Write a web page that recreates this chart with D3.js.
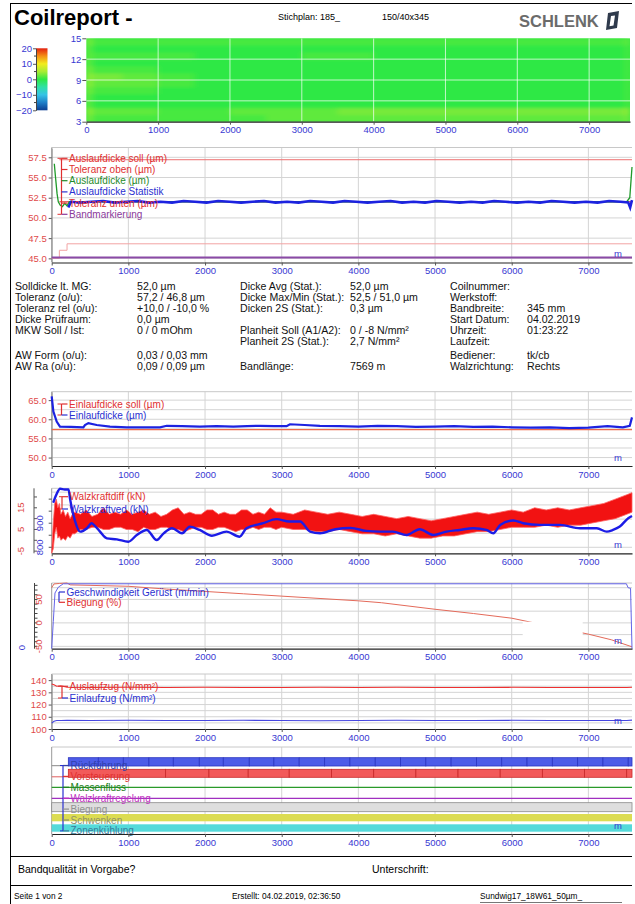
<!DOCTYPE html>
<html>
<head>
<meta charset="utf-8">
<script src="https://cdn.jsdelivr.net/npm/d3@7"></script>
<style>
body { margin: 0; background: #fff; }
svg { display: block; font-family: "Liberation Sans", Arial, sans-serif; }
</style>
</head>
<body>
<svg id="page" width="635" height="904"></svg>
<script>
// ---- data ----
const REPORT_LEN = 7569;
const distTicks = [0, 1000, 2000, 3000, 4000, 5000, 6000, 7000];

// Planheit map (zones 3..15, rows from bottom)
const zoneLo = [3, 4, 5, 6, 7, 8, 9, 10, 11, 12, 13, 14];
const heatCuts = [0, 80, 500, 1000, 1500, 2000, 2500, 3000, 3500, 4000, 4500, 5000, 5500, 6000, 6500, 7000, 7500, 7569];
const heatRows = [
  [3, 1, 1, 1, 1, 1, 2, 2, 2, 2, 2, 2, 2, 2, 2, 2, 3],
  [4, 2, 2, 1, 1, 2, 2, 2, 3, 3, 3, 3, 3, 3, 3, 3, 4],
  [2, 0, 0, 0, 0, 0, 0, 0, 0, 0, 0, 0, 0, 0, 0, 0, 1],
  [2, 0, 0, 0, 0, 0, 0, 0, 0, 0, 0, 0, 0, 0, 0, 0, 1],
  [3, 1, 1, 0, 0, 0, 0, 0, 0, 0, 0, 0, 0, 0, 0, 0, 1],
  [4, 2, 2, 1, 0, 0, 0, 0, 0, 0, 0, 0, 0, 0, 0, 0, 1],
  [4, 3, 2, 1, 0, 0, 0, 0, 0, 0, 0, 0, 0, 0, 0, 0, 1],
  [3, 1, 1, 0, 0, 0, 0, 0, 0, 0, 0, 0, 0, 0, 0, 0, 1],
  [2, 0, 0, 0, 0, 0, 0, 0, 0, 0, 0, 0, 0, 0, 0, 0, 1],
  [2, 1, 1, 1, 0, 0, 0, 1, 1, 0, 0, 0, 0, 0, 0, 0, 1],
  [2, 0, 0, 0, 0, 0, 0, 0, 0, 0, 0, 0, 0, 0, 0, 0, 1],
  [3, 1, 1, 1, 1, 1, 1, 1, 1, 1, 1, 1, 1, 1, 1, 1, 2]
];
const scaleStops = [-20, -15, -10, -5, 0, 5, 10, 15, 20];
const scaleColors = ["#0b3d91", "#1e7fc8", "#35c3e6", "#2fe0a6", "#2ee844", "#a8ec34", "#f2ec1e", "#f49014", "#e3200f"];
const colorbarTicks = [20, 10, 0, -10, -20];
const zoneTicks = [3, 6, 9, 12, 15];

// Auslaufdicke
const dickeStatM = [217, 250, 370, 520, 670, 820, 970, 1120, 1270, 1420, 1570, 1720, 1870, 2020, 2170, 2320, 2470, 2620, 2770, 2920, 3070, 3220, 3370, 3520, 3670, 3820, 3970, 4120, 4270, 4420, 4570, 4720, 4870, 5020, 5170, 5320, 5470, 5620, 5770, 5920, 6070, 6220, 6370, 6520, 6670, 6820, 6970, 7120, 7270, 7420, 7520, 7545, 7569];
const dickeStat = [51.3, 52.0, 51.9, 52.0, 52.1, 51.9, 52.0, 52.1, 51.9, 52.0, 51.9, 52.1, 52.0, 51.9, 52.1, 52.0, 51.9, 52.0, 52.1, 51.9, 52.0, 51.9, 52.1, 52.0, 51.9, 52.1, 52.0, 51.9, 52.0, 52.1, 51.9, 52.0, 51.9, 52.1, 52.0, 51.9, 52.0, 51.9, 52.1, 52.0, 51.9, 52.0, 51.9, 52.1, 52.0, 51.9, 52.0, 51.9, 52.1, 52.0, 51.9, 51.3, 52.2];
const dickeIstM = [34, 50, 70, 86, 110, 140, 170, 200, 230, 7500, 7540, 7569];
const dickeIst = [56.7, 55.0, 53.0, 52.0, 51.6, 51.4, 51.8, 51.5, 52.0, 52.0, 52.5, 56.3];
const dickeSoll = 52.0;
const tolOben = 57.2;
const tolUntenM = [0, 100, 100, 200, 200, REPORT_LEN];
const tolUnten = [45.0, 45.0, 46.0, 46.0, 46.8, 46.8];
const bandMark = 45.1;

// Einlaufdicke
const einlaufM = [0, 22, 65, 108, 250, 413, 434, 478, 587, 760, 978, 1200, 1413, 1500, 1700, 1934, 2150, 2369, 2550, 2716, 2900, 3064, 3107, 3300, 3498, 3750, 4000, 4250, 4500, 4750, 5000, 5250, 5500, 5750, 6000, 6250, 6500, 6750, 7000, 7250, 7450, 7540, 7569];
const einlauf = [66.0, 62.0, 59.4, 58.1, 58.0, 57.9, 58.5, 59.0, 58.5, 58.1, 57.9, 57.9, 57.9, 58.3, 58.2, 58.1, 58.2, 58.1, 58.2, 58.3, 58.2, 58.2, 58.7, 58.5, 58.3, 58.2, 58.1, 58.3, 58.2, 58.0, 58.1, 58.2, 58.0, 58.1, 57.9, 57.8, 57.9, 57.7, 57.8, 58.2, 57.9, 58.3, 60.5];
const einlaufSoll = 57.3;

// Walzkraft
const walzDiffM = [0, 20, 40, 60, 80, 100, 120, 150, 180, 210, 240, 270, 300, 375, 450, 525, 600, 675, 750, 825, 900, 975, 1050, 1125, 1200, 1275, 1350, 1425, 1500, 1575, 1650, 1725, 1800, 1875, 1950, 2025, 2100, 2175, 2250, 2325, 2400, 2475, 2550, 2625, 2700, 2775, 2850, 2925, 3000, 3150, 3300, 3450, 3600, 3750, 3900, 4050, 4200, 4350, 4500, 4650, 4800, 4950, 5100, 5250, 5400, 5550, 5700, 5850, 6000, 6150, 6300, 6450, 6600, 6750, 6900, 7050, 7200, 7350, 7500, 7569];
const walzDiffHi = [-5, 8, 17, 19, 15, 17, 12, 14, 11, 13, 10, 12, 13, 12, 14, 11, 12, 15, 12, 13, 12, 14, 12, 13, 14, 12, 13, 11, 12, 14, 15, 12, 13, 12, 12, 14, 14, 12, 13, 12, 12, 14, 14, 12, 13, 12, 15, 13, 13, 12, 14, 13, 12, 13, 12, 11, 12, 11, 10, 11, 10, 9, 10, 11, 12, 13, 12, 13, 14, 13, 15, 14, 15, 14, 15, 16, 17, 19, 21, 22];
const walzDiffLo = [-6, -4, 3, 6, 1, 2, 0, 1, 0, 2, 1, 3, 3, 5, 5, 6, 6, 5, 5, 6, 6, 5, 5, 4, 6, 5, 5, 6, 6, 5, 5, 4, 5, 6, 6, 5, 5, 6, 6, 5, 4, 5, 5, 6, 5, 6, 6, 5, 6, 5, 5, 4, 4, 5, 4, 3, 3, 2, 3, 2, 1, 1, 2, 2, 3, 4, 4, 5, 6, 6, 6, 7, 6, 7, 7, 8, 9, 10, 12, 13];
const walzKraftM = [20, 60, 110, 170, 220, 240, 300, 370, 460, 520, 560, 630, 720, 850, 1000, 1110, 1240, 1370, 1460, 1570, 1700, 1800, 1930, 2090, 2280, 2450, 2540, 2760, 2930, 3100, 3240, 3370, 3500, 3700, 3900, 4100, 4280, 4450, 4630, 4800, 4980, 5150, 5320, 5500, 5670, 5760, 5850, 6020, 6150, 6370, 6630, 6890, 7110, 7240, 7320, 7410, 7520, 7569];
const walzKraft = [985, 1018, 1043, 1040, 1040, 1000, 914, 865, 879, 900, 890, 865, 837, 833, 823, 851, 872, 830, 858, 879, 858, 886, 872, 848, 865, 844, 879, 900, 917, 907, 907, 865, 858, 875, 880, 868, 865, 865, 851, 875, 851, 865, 872, 879, 872, 858, 893, 911, 900, 893, 893, 879, 879, 865, 872, 886, 921, 930];

// Geschwindigkeit / Biegung
const speedM = [0, 21, 43, 86, 151, 200, 7496, 7518, 7550, 7569];
const speed = [0, 104, 212, 234, 247, 247, 247, 232, 230, 0];
const biegungM = [0, 30, 100, 200, 240, 500, 1000, 1500, 2000, 2500, 3000, 3500, 4000, 4300, 5000, 5500, 6000, 6500, 7000, 7300, 7569];
const biegung = [75, 83, 84, 85, 81, 80, 78, 72, 67, 62, 57, 52, 47, 43, 29, 20, 10, -7, -24, -36, -51];

// Zug
const zugM = [0, 30, 65, 120, 200, 500, 1000, 1500, 2000, 2500, 3000, 3500, 4000, 4500, 5000, 5500, 6000, 6500, 7000, 7500, 7569];
const auslaufzug = [136.8, 136.2, 135.0, 135.4, 134.2, 134.0, 134.2, 134.0, 134.1, 133.9, 134.0, 134.2, 134.0, 134.1, 133.9, 134.0, 134.1, 134.0, 133.9, 134.0, 134.2];
const einlaufzug = [104.8, 106.3, 106.9, 107.0, 107.1, 107.0, 107.2, 107.0, 106.9, 107.1, 107.0, 106.8, 107.0, 107.1, 106.9, 107.0, 107.1, 106.9, 107.0, 106.9, 107.3];

// Regelungen
const rueckCuts = [217, 608, 934, 1268, 1586, 1925, 2238, 2577, 2898, 3228, 3560, 3890, 4220, 4550, 4880, 5210, 5540, 5870, 6200, 6530, 6860, 7190, 7520, 7569];
const vorCuts = [217, 1486, 2051, 2563, 3098, 3650, 4200, 4750, 5300, 5850, 6400, 6950, 7500, 7569];

// info block
const infoLeft = [["Solldicke lt. MG:", "52,0 µm", 0], ["Toleranz (o/u):", "57,2 / 46,8 µm", 1], ["Toleranz rel (o/u):", "+10,0 / -10,0 %", 2], ["Dicke Prüfraum:", "0,0 µm", 3], ["MKW Soll / Ist:", "0 / 0 mOhm", 4], ["AW Form (o/u):", "0,03 / 0,03 mm", 6], ["AW Ra (o/u):", "0,09 / 0,09 µm", 7]];
const infoMid = [["Dicke Avg (Stat.):", "52,0 µm", 0], ["Dicke Max/Min (Stat.):", "52,5 / 51,0 µm", 1], ["Dicken 2S (Stat.):", "0,3 µm", 2], ["Planheit Soll (A1/A2):", "0 / -8 N/mm²", 4], ["Planheit 2S (Stat.):", "2,7 N/mm²", 5], ["Bandlänge:", "7569 m", 7]];
const infoRight = [["Coilnummer:", "", 0], ["Werkstoff:", "", 1], ["Bandbreite:", "345 mm", 2], ["Start Datum:", "04.02.2019", 3], ["Uhrzeit:", "01:23:22", 4], ["Laufzeit:", "", 5], ["Bediener:", "tk/cb", 6], ["Walzrichtung:", "Rechts", 7]];

// ---- drawing ----
const FONT = '"Liberation Sans", Arial, sans-serif';
const AX_BLUE = "#3838d2";
const AX_RED = "#e04a4a";
const GRID = "#d4d4d4";
const svg = d3.select("#page");

const x = d3.scaleLinear().domain([0, REPORT_LEN]).range([51.7, 632]);
const xHeat = d3.scaleLinear().domain([0, REPORT_LEN]).range([86.3, 630]);

function styleAxis(g, color, size) {
  g.attr("font-family", FONT);
  g.selectAll("text").attr("fill", color).attr("font-size", size);
  g.select(".domain").attr("stroke", "#555");
  g.selectAll(".tick line").attr("stroke", "#555");
}

function xAxis(scale, y0) {
  const g = svg.append("g").attr("transform", `translate(0,${y0})`)
    .call(d3.axisBottom(scale).tickValues(distTicks).tickSize(3).tickSizeOuter(0).tickPadding(2).tickFormat(d3.format("d")));
  styleAxis(g, AX_BLUE, 9.5);
  g.select(".domain").attr("stroke", "#222").attr("stroke-width", 1.2);
  return g;
}

function gridFrame(yTop, yBot, hLines) {
  const g = svg.append("g");
  g.selectAll(null).data(distTicks.slice(1)).join("line")
    .attr("x1", d => x(d)).attr("x2", d => x(d)).attr("y1", yTop).attr("y2", yBot)
    .attr("stroke", GRID);
  g.selectAll(null).data(hLines).join("line")
    .attr("x1", x.range()[0]).attr("x2", x.range()[1]).attr("y1", d => d).attr("y2", d => d)
    .attr("stroke", GRID);
  g.append("line").attr("x1", x.range()[0]).attr("x2", x.range()[1]).attr("y1", yTop).attr("y2", yTop).attr("stroke", "#c8c8c8");
  g.append("line").attr("x1", x.range()[0]).attr("x2", x.range()[0]).attr("y1", yTop).attr("y2", yBot).attr("stroke", "#999");
  return g;
}

function unitLabel(yBot) {
  svg.append("text").attr("x", 614).attr("y", yBot - 5).attr("fill", AX_BLUE)
    .attr("font-size", 9.5).text("m");
}

function legend(items, x0, y0, step, bracketColor, leftTick) {
  const g = svg.append("g");
  const ys = items.map((d, i) => y0 + i * step);
  g.append("line").attr("x1", x0).attr("x2", x0).attr("y1", ys[0]).attr("y2", ys[ys.length - 1])
    .attr("stroke", bracketColor).attr("stroke-width", 1.2);
  if (leftTick) {
    g.append("line").attr("x1", x0 - leftTick).attr("x2", x0).attr("y1", ys[0]).attr("y2", ys[0]).attr("stroke", bracketColor);
    g.append("line").attr("x1", x0 - leftTick).attr("x2", x0).attr("y1", ys[ys.length - 1]).attr("y2", ys[ys.length - 1]).attr("stroke", bracketColor);
  }
  items.forEach((d, i) => {
    g.append("line").attr("x1", x0).attr("x2", x0 + 6).attr("y1", ys[i]).attr("y2", ys[i])
      .attr("stroke", d.color).attr("stroke-width", 1.2);
    g.append("text").attr("x", x0 + 7.5).attr("y", ys[i] + 3.5).attr("fill", d.color)
      .attr("font-size", 10).text(d.label);
  });
}

function pairs(ms, vs) { return ms.map((m, i) => [m, vs[i]]); }

// page frame + header
svg.append("line").attr("x1", 10.5).attr("x2", 10.5).attr("y1", 3).attr("y2", 904).attr("stroke", "#000");
svg.append("line").attr("x1", 10).attr("x2", 632).attr("y1", 3.5).attr("y2", 3.5).attr("stroke", "#000");
svg.append("text").attr("x", 14).attr("y", 25).attr("font-size", 22).attr("font-weight", "bold").text("Coilreport -");
svg.append("text").attr("x", 278).attr("y", 20).attr("font-size", 9).text("Stichplan: 185_");
svg.append("text").attr("x", 382).attr("y", 20).attr("font-size", 9).text("150/40x345");
svg.append("text").attr("x", 519).attr("y", 27).attr("font-size", 16.5).attr("font-weight", "bold")
  .attr("fill", "#6b6b6b").text("SCHLENK");
svg.append("path").attr("d", "M608,13 L619,11 L617,28 L606,30 Z M611,16 L615,15.5 L613.5,25.5 L609.5,26.2 Z")
  .attr("fill", "#2f3a4c").attr("fill-rule", "evenodd");

// ---- Panel 1: Planheit map ----
const yHeat = d3.scaleLinear().domain([3, 15]).range([121.7, 38.3]);
const heatColor = d3.scaleLinear().domain(scaleStops).range(scaleColors).clamp(true);
const defs = svg.append("defs");
defs.append("clipPath").attr("id", "heatClip").append("rect")
  .attr("x", xHeat(0)).attr("y", yHeat(15)).attr("width", xHeat(REPORT_LEN) - xHeat(0)).attr("height", yHeat(3) - yHeat(15));
defs.append("filter").attr("id", "soft").attr("x", "-5%").attr("y", "-5%").attr("width", "110%").attr("height", "110%")
  .append("feGaussianBlur").attr("stdDeviation", "3 1.4");
const cells = [];
heatRows.forEach((row, r) => row.forEach((v, c) => cells.push({ r, c, v })));
const heatG = svg.append("g").attr("clip-path", "url(#heatClip)");
heatG.append("rect").attr("x", xHeat(0)).attr("y", yHeat(15)).attr("width", xHeat(REPORT_LEN) - xHeat(0))
  .attr("height", yHeat(3) - yHeat(15)).attr("fill", heatColor(0));
heatG.append("g").attr("filter", "url(#soft)").selectAll("rect").data(cells).join("rect")
  .attr("x", d => xHeat(heatCuts[d.c]) - 0.3)
  .attr("width", d => xHeat(heatCuts[d.c + 1]) - xHeat(heatCuts[d.c]) + 0.6)
  .attr("y", d => yHeat(zoneLo[d.r] + 1) - 0.3)
  .attr("height", d => yHeat(zoneLo[d.r]) - yHeat(zoneLo[d.r] + 1) + 0.6)
  .attr("fill", d => heatColor(d.v));
heatG.selectAll(null).data(distTicks.slice(1)).join("line")
  .attr("x1", d => xHeat(d)).attr("x2", d => xHeat(d)).attr("y1", yHeat(15)).attr("y2", yHeat(3))
  .attr("stroke", "#ffffff").attr("stroke-opacity", 0.7);
heatG.selectAll(null).data([6, 9, 12]).join("line")
  .attr("x1", xHeat(0)).attr("x2", xHeat(REPORT_LEN)).attr("y1", d => yHeat(d)).attr("y2", d => yHeat(d))
  .attr("stroke", "#ffffff").attr("stroke-opacity", 0.7);
const hy = svg.append("g").attr("transform", `translate(${xHeat(0)},0)`)
  .call(d3.axisLeft(yHeat).tickValues(zoneTicks).tickSize(4).tickSizeOuter(0).tickPadding(1));
styleAxis(hy, AX_BLUE, 9.5);
hy.select(".domain").remove();
xAxis(xHeat, 121.7);

// colour bar
const cb = d3.scaleLinear().domain([-20, 20]).range([110.3, 48.3]);
const grad = defs.append("linearGradient").attr("id", "cbar").attr("x1", 0).attr("x2", 0).attr("y1", 1).attr("y2", 0);
scaleStops.forEach((s, i) => grad.append("stop").attr("offset", (s + 20) / 40).attr("stop-color", scaleColors[i]));
svg.append("rect").attr("x", 36).attr("y", cb(20)).attr("width", 11.5).attr("height", cb(-20) - cb(20)).attr("fill", "url(#cbar)");
const cbAx = svg.append("g").attr("transform", "translate(36,0)")
  .call(d3.axisLeft(cb).tickValues(colorbarTicks).tickSize(3).tickSizeOuter(0).tickPadding(1));
styleAxis(cbAx, AX_BLUE, 9.5);
cbAx.select(".domain").attr("stroke", "#444");
svg.append("g").selectAll("line").data(d3.range(-20, 21, 5).filter(v => v % 10 !== 0)).join("line")
  .attr("x1", 34).attr("x2", 36).attr("y1", d => cb(d)).attr("y2", d => cb(d)).attr("stroke", "#444");

// ---- Panel 2: Auslaufdicke ----
const y2 = d3.scaleLinear().domain([44.55, 58.65]).range([262, 148]);
const y2Ticks = [45, 47.5, 50, 52.5, 55, 57.5];
gridFrame(147.5, 262, y2Ticks.map(y2));
const y2Ax = svg.append("g").attr("transform", `translate(${x(0)},0)`)
  .call(d3.axisLeft(y2).tickValues(y2Ticks).tickSize(3).tickSizeOuter(0).tickPadding(2).tickFormat(d3.format(".1f")));
styleAxis(y2Ax, AX_RED, 9.5);
y2Ax.select(".domain").attr("stroke", "#999");
const line2 = d3.line().x(d => x(d[0])).y(d => y2(d[1]));
svg.append("path").datum(pairs(tolUntenM, tolUnten)).attr("d", line2).attr("fill", "none").attr("stroke", "#f2a3a3");
svg.append("path").datum([[100, tolOben], [REPORT_LEN, tolOben]]).attr("d", line2).attr("fill", "none").attr("stroke", "#ee7070");
svg.append("path").datum([[100, dickeSoll], [REPORT_LEN, dickeSoll]]).attr("d", line2).attr("fill", "none").attr("stroke", "#e03030");
svg.append("path").datum([[0, bandMark], [REPORT_LEN, bandMark]]).attr("d", line2).attr("fill", "none").attr("stroke", "#8a4aa6").attr("stroke-width", 2);
svg.append("path").datum(pairs(dickeIstM, dickeIst)).attr("d", line2).attr("fill", "none").attr("stroke", "#1f9a2a").attr("stroke-width", 1.3);
svg.append("path").datum(pairs(dickeStatM, dickeStat)).attr("d", line2).attr("fill", "none").attr("stroke", "#1c22e0").attr("stroke-width", 2.6);
legend([
  { label: "Auslaufdicke soll (µm)", color: "#e03030" },
  { label: "Toleranz oben (µm)", color: "#e03030" },
  { label: "Auslaufdicke (µm)", color: "#1f8a2a" },
  { label: "Auslaufdicke Statistik", color: "#2a30d0" },
  { label: "Toleranz unten (µm)", color: "#e03030" },
  { label: "Bandmarkierung", color: "#8a3a9a" }
], 61.5, 158.3, 11.2, "#e03030", 4);
unitLabel(262);
xAxis(x, 262.5);

// ---- info block ----
const rowY = [286, 297, 308, 319, 330.5, 341.5, 355.5, 366.5];
function infoCol(rows, xl, xv) {
  const g = svg.append("g").attr("font-size", 10.6).attr("fill", "#111");
  g.selectAll(null).data(rows).join("text").attr("x", xl).attr("y", d => rowY[d[2]] + 3.7).text(d => d[0]);
  g.selectAll(null).data(rows).join("text").attr("x", xv).attr("y", d => rowY[d[2]] + 3.7).text(d => d[1]);
}
infoCol(infoLeft, 15, 137);
infoCol(infoMid, 240, 350);
infoCol(infoRight, 450, 527);

// ---- Panel 3: Einlaufdicke ----
const y3 = d3.scaleLinear().domain([47.8, 67.2]).range([466, 391.7]);
gridFrame(391.7, 466, [50, 52.5, 55, 57.5, 60, 62.5, 65].map(y3));
const y3Ax = svg.append("g").attr("transform", `translate(${x(0)},0)`)
  .call(d3.axisLeft(y3).tickValues([50, 55, 60, 65]).tickSize(3).tickSizeOuter(0).tickPadding(2).tickFormat(d3.format(".1f")));
styleAxis(y3Ax, AX_RED, 9.5);
y3Ax.select(".domain").attr("stroke", "#999");
const line3 = d3.line().x(d => x(d[0])).y(d => y3(d[1]));
svg.append("path").datum([[0, einlaufSoll], [REPORT_LEN, einlaufSoll]]).attr("d", line3).attr("fill", "none").attr("stroke", "#ee6a4a").attr("stroke-width", 1.3);
svg.append("path").datum(pairs(einlaufM, einlauf)).attr("d", line3).attr("fill", "none").attr("stroke", "#1c22e0").attr("stroke-width", 2.2);
legend([
  { label: "Einlaufdicke soll (µm)", color: "#e03030" },
  { label: "Einlaufdicke (µm)", color: "#2a30d0" }
], 61.5, 404, 11, "#e03030", 4);
unitLabel(466);
xAxis(x, 466);

// ---- Panel 4: Walzkraft ----
const y4r = d3.scaleLinear().domain([-6, 24]).range([553.3, 488.3]);
const y4b = d3.scaleLinear().domain([775, 1045]).range([553.3, 488.3]);
gridFrame(488.3, 553.3, [800, 858, 917, 976, 1029].map(y4b));
const area4 = d3.area().x(d => x(d[0])).y0(d => y4r(d[1])).y1(d => y4r(d[2]));
svg.append("path").datum(walzDiffM.map((m, i) => [m, walzDiffLo[i], walzDiffHi[i]]))
  .attr("d", area4).attr("fill", "#f21212").attr("stroke", "#ff6060").attr("stroke-width", 0.8);
svg.append("path").datum(pairs(walzKraftM, walzKraft))
  .attr("d", d3.line().curve(d3.curveMonotoneX).x(d => x(d[0])).y(d => y4b(d[1])))
  .attr("fill", "none").attr("stroke", "#1c1ce6").attr("stroke-width", 2.4);
// red axis (left) and blue axis
svg.append("line").attr("x1", 34).attr("x2", 34).attr("y1", 488.3).attr("y2", 553.3).attr("stroke", "#555");
svg.append("g").selectAll("line").data([-5, 0, 5, 10, 15, 20]).join("line")
  .attr("x1", 34).attr("x2", 37).attr("y1", d => y4r(d)).attr("y2", d => y4r(d)).attr("stroke", "#555");
svg.append("g").selectAll("text").data([-5, 5, 15]).join("text")
  .attr("transform", d => `translate(23.5,${y4r(d)}) rotate(-90)`).attr("text-anchor", "middle")
  .attr("font-size", 9.5).attr("fill", AX_RED).text(d => d);
svg.append("g").selectAll("line").data([800, 850, 900, 950, 1000]).join("line")
  .attr("x1", x(0) - 3).attr("x2", x(0)).attr("y1", d => y4b(d)).attr("y2", d => y4b(d)).attr("stroke", "#555");
svg.append("g").selectAll("text").data([800, 900]).join("text")
  .attr("transform", d => `translate(43,${y4b(d)}) rotate(-90)`).attr("text-anchor", "middle")
  .attr("font-size", 9.5).attr("fill", AX_BLUE).text(d => d);
legend([
  { label: "Walzkraftdiff (kN)", color: "#e03030" },
  { label: "Walzkraftved (kN)", color: "#2a30d0" }
], 62, 496.7, 12.3, "#e03030", 3);
unitLabel(553.3);
xAxis(x, 553.3);

// ---- Panel 5: Geschwindigkeit / Biegung ----
const y5r = d3.scaleLinear().domain([-55, 85]).range([648.7, 583]);
const y5b = d3.scaleLinear().domain([0, 250]).range([648.7, 583]);
gridFrame(583, 648.7, [-50, -25, 0, 25, 50, 75].map(y5r));
svg.append("path").datum(pairs(biegungM, biegung)).attr("d", d3.line().x(d => x(d[0])).y(d => y5r(d[1])))
  .attr("fill", "none").attr("stroke", "#e46a5a").attr("stroke-width", 1);
svg.append("path").datum(pairs(speedM, speed)).attr("d", d3.line().x(d => x(d[0])).y(d => y5b(d[1])))
  .attr("fill", "none").attr("stroke", "#6464e8").attr("stroke-width", 1);
// masked region
svg.append("rect").attr("x", 522.7).attr("y", 621.7).attr("width", 60).attr("height", 15).attr("fill", "#fff");
svg.append("line").attr("x1", 34.5).attr("x2", 34.5).attr("y1", 583).attr("y2", 648.7).attr("stroke", "#444");
svg.append("g").selectAll("line").data(d3.range(-50, 81, 10)).join("line")
  .attr("x1", 34.5).attr("x2", 37.5).attr("y1", d => y5r(d)).attr("y2", d => y5r(d)).attr("stroke", "#444");
svg.append("g").selectAll("text").data([-50, 0, 50]).join("text")
  .attr("transform", d => `translate(41.5,${y5r(d)}) rotate(-90)`).attr("text-anchor", "middle")
  .attr("font-size", 9.5).attr("fill", AX_RED).text(d => d);
svg.append("text").attr("transform", `translate(24.5,${y5b(0) - 1}) rotate(-90)`).attr("text-anchor", "middle")
  .attr("font-size", 9.5).attr("fill", AX_BLUE).text("0");
legend([
  { label: "Geschwindigkeit Gerüst (m/min)", color: "#2a30d0" },
  { label: "Biegung (%)", color: "#e03030" }
], 59, 592, 10.3, "#2a30d0", 0);
unitLabel(648.7);
xAxis(x, 648.7);

// ---- Panel 6: Zug ----
const y6 = d3.scaleLinear().domain([100, 145]).range([729, 674]);
gridFrame(674, 729, [105, 110, 115, 120, 125, 130, 135, 140].map(y6));
const y6Ax = svg.append("g").attr("transform", `translate(${x(0)},0)`)
  .call(d3.axisLeft(y6).tickValues([100, 110, 120, 130, 140]).tickSize(3).tickSizeOuter(0).tickPadding(2));
styleAxis(y6Ax, AX_RED, 9.5);
y6Ax.select(".domain").attr("stroke", "#999");
const line6 = d3.line().x(d => x(d[0])).y(d => y6(d[1]));
svg.append("path").datum(pairs(zugM, auslaufzug)).attr("d", line6).attr("fill", "none").attr("stroke", "#ee3030").attr("stroke-width", 1.1);
svg.append("path").datum(pairs(zugM, einlaufzug)).attr("d", line6).attr("fill", "none").attr("stroke", "#4646e0").attr("stroke-width", 1.1);
legend([
  { label: "Auslaufzug (N/mm²)", color: "#e03030" },
  { label: "Einlaufzug (N/mm²)", color: "#2a30d0" }
], 62, 686.3, 11.7, "#e03030", 4);
unitLabel(729);
xAxis(x, 729);

// ---- Panel 7: Regelungen ----
gridFrame(747, 834, []);
const rowsG = svg.append("g");
rowsG.append("line").attr("x1", x(0)).attr("x2", x(rueckCuts[0])).attr("y1", 765.7).attr("y2", 765.7).attr("stroke", "#888");
rowsG.selectAll(null).data(rueckCuts.slice(0, -1)).join("rect")
  .attr("x", d => x(d)).attr("width", (d, i) => x(rueckCuts[i + 1]) - x(d))
  .attr("y", 757.7).attr("height", 8.3)
  .attr("fill", "#4d5ce8").attr("stroke", "#2a34c0").attr("stroke-width", 0.8);
rowsG.append("line").attr("x1", x(0)).attr("x2", x(vorCuts[0])).attr("y1", 776.8).attr("y2", 776.8).attr("stroke", "#e06060");
rowsG.selectAll(null).data(vorCuts.slice(0, -1)).join("rect")
  .attr("x", d => x(d)).attr("width", (d, i) => x(vorCuts[i + 1]) - x(d))
  .attr("y", 769.3).attr("height", 8).attr("fill", "#f25a5a").attr("stroke", "#c82828").attr("stroke-width", 0.8);
rowsG.append("line").attr("x1", x(0)).attr("x2", x(REPORT_LEN)).attr("y1", 787.3).attr("y2", 787.3).attr("stroke", "#2a9a2a").attr("stroke-width", 1.2);
rowsG.append("line").attr("x1", x(0)).attr("x2", x(REPORT_LEN)).attr("y1", 798.3).attr("y2", 798.3).attr("stroke", "#a030c0").attr("stroke-width", 1.2);
rowsG.append("rect").attr("x", x(0)).attr("width", x(REPORT_LEN) - x(0)).attr("y", 802.7).attr("height", 9)
  .attr("fill", "#dedede").attr("stroke", "#8a8a8a").attr("stroke-width", 0.8);
rowsG.append("rect").attr("x", x(0)).attr("width", x(REPORT_LEN) - x(0)).attr("y", 814).attr("height", 7.3).attr("fill", "#dcdc52");
rowsG.append("rect").attr("x", x(0)).attr("width", x(REPORT_LEN) - x(0)).attr("y", 824.3).attr("height", 7.4).attr("fill", "#55dada");
legend([
  { label: "Rückführung", color: "#3040a8" },
  { label: "Vorsteuerung", color: "#e03030" },
  { label: "Massenfluss", color: "#208020" },
  { label: "Walzkraftregelung", color: "#c030c0" },
  { label: "Biegung", color: "#909090" },
  { label: "Schwenken", color: "#8f8f6a" },
  { label: "Zonenkühlung", color: "#3a7a9a" }
], 63, 765.5, 10.9, "#2a30d0", 3);
unitLabel(834);
xAxis(x, 834);

// ---- footer ----
svg.append("line").attr("x1", 10).attr("x2", 632).attr("y1", 856.5).attr("y2", 856.5).attr("stroke", "#000");
svg.append("text").attr("x", 18).attr("y", 873).attr("font-size", 10.5).text("Bandqualität in Vorgabe?");
svg.append("text").attr("x", 372).attr("y", 873).attr("font-size", 10.5).text("Unterschrift:");
svg.append("line").attr("x1", 10).attr("x2", 632).attr("y1", 885.5).attr("y2", 885.5).attr("stroke", "#000");
svg.append("text").attr("x", 14).attr("y", 899).attr("font-size", 8.3).text("Seite 1 von 2");
svg.append("text").attr("x", 232).attr("y", 899).attr("font-size", 8.3).text("Erstellt: 04.02.2019, 02:36:50");
svg.append("text").attr("x", 480).attr("y", 899).attr("font-size", 8.3).text("Sundwig17_18W61_50µm_");
svg.append("line").attr("x1", 480).attr("x2", 622).attr("y1", 902.5).attr("y2", 902.5).attr("stroke", "#777");
</script>
</body>
</html>
